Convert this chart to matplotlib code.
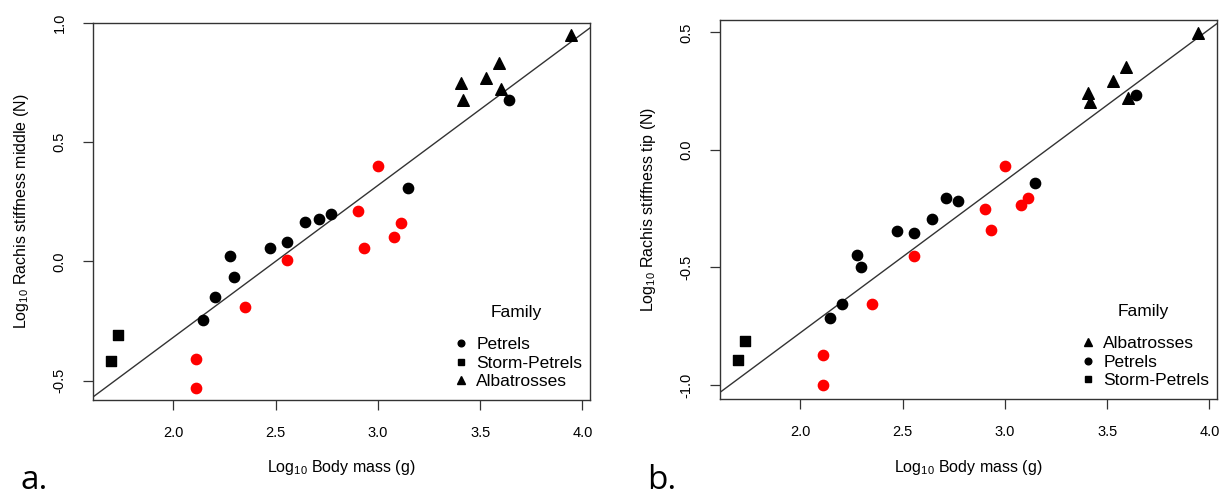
import numpy as np
import matplotlib.pyplot as plt
from matplotlib.lines import Line2D

plt.rcParams['font.family'] = ['Liberation Sans', 'DejaVu Sans']
plt.rcParams['mathtext.fontset'] = 'custom'
plt.rcParams['mathtext.rm'] = 'Liberation Sans'
plt.rcParams['mathtext.it'] = 'Liberation Sans:italic'

# log10 body mass (g)
storm_mass = [1.730, 1.695]
petrel_mass = [2.145, 2.204, 2.277, 2.298, 2.474, 2.554, 2.644, 2.714, 2.771, 3.147, 3.640]
albatross_mass = [3.407, 3.414, 3.527, 3.593, 3.602, 3.942]
red_mass = [2.111, 2.111, 2.350, 2.554, 2.904, 3.001, 2.931, 3.079, 3.113]

# log10 rachis stiffness, middle
storm_mid = [-0.308, -0.417]
petrel_mid = [-0.245, -0.147, 0.021, -0.066, 0.055, 0.081, 0.164, 0.178, 0.200, 0.310, 0.677]
albatross_mid = [0.747, 0.677, 0.771, 0.834, 0.724, 0.948]
red_mid = [-0.409, -0.532, -0.189, 0.007, 0.210, 0.402, 0.055, 0.104, 0.160]

# log10 rachis stiffness, tip
storm_tip = [-0.815, -0.896]
petrel_tip = [-0.716, -0.656, -0.447, -0.500, -0.347, -0.352, -0.293, -0.204, -0.218, -0.139, 0.233]
albatross_tip = [0.241, 0.206, 0.292, 0.354, 0.220, 0.499]
red_tip = [-0.872, -1.002, -0.655, -0.451, -0.251, -0.069, -0.340, -0.233, -0.205]

# regression lines (slope, intercept)
fit_mid = (0.637, -1.592)
fit_tip = (0.646, -2.070)

x_ticks = [2.0, 2.5, 3.0, 3.5, 4.0]
mid_ticks = [-0.5, 0.0, 0.5, 1.0]
tip_ticks = [-1.0, -0.5, 0.0, 0.5]

fig = plt.figure(figsize=(12.28, 4.96), dpi=100)
ax1 = fig.add_axes([0.0757, 0.1935, 0.4047, 0.760])
ax2 = fig.add_axes([0.5863, 0.1956, 0.4047, 0.764])

handles = {
    'Petrels': Line2D([], [], ls='none', marker='o', color='black', markersize=4.8),
    'Storm-Petrels': Line2D([], [], ls='none', marker='s', color='black', markersize=4.8),
    'Albatrosses': Line2D([], [], ls='none', marker='^', color='black', markersize=5.5),
}


def draw_panel(ax, ys, fit, yticks, ylim, ylabel, order, letter, letter_x):
    storm, petrel, albatross, red = ys
    ax.scatter(petrel_mass, petrel, marker='o', s=55, color='black', zorder=3)
    ax.scatter(storm_mass, storm, marker='s', s=55, color='black', zorder=3)
    ax.scatter(albatross_mass, albatross, marker='^', s=70, color='black', zorder=3)
    ax.scatter(red_mass, red, marker='o', s=55, color='red', zorder=3)
    ax.axline((0, fit[1]), slope=fit[0], color='#333333', lw=1.0, zorder=2)

    ax.set_xlim(1.607, 4.037)
    ax.set_ylim(*ylim)
    ax.set_xticks(x_ticks)
    ax.set_xticklabels([f'{v:.1f}' for v in x_ticks])
    ax.set_yticks(yticks)
    ax.set_yticklabels([f'{v:.1f}' for v in yticks], rotation=90, va='center')
    ax.tick_params(direction='out', length=7, width=0.9, color='#333333',
                   labelsize=10.5, pad=12)
    for sp in ax.spines.values():
        sp.set_color('#333333')
        sp.set_linewidth(1.0)

    ax.set_xlabel('Log$_{10}$ Body mass (g)', fontsize=11.5)
    ax.xaxis.set_label_coords(0.5, -0.18)
    ax.xaxis.label.set_va('center')
    ax.set_ylabel(ylabel, fontsize=11.5)
    ax.yaxis.set_label_coords(-0.143, 0.5)
    ax.yaxis.label.set_va('center')

    # legend entries, with the title placed on its own above them
    ax.legend([handles[k] for k in order], order,
              loc='lower left', bbox_to_anchor=(0.703, -0.004), frameon=False,
              fontsize=12.5, handlelength=0.7,
              handletextpad=0.55, labelspacing=0.2, borderpad=0.2)
    ax.text(0.8525, 0.231, 'Family', transform=ax.transAxes, fontsize=12.5,
            ha='center', va='center')

    fig.text(letter_x, 0.014, letter, fontsize=24, family='Open Sans',
             ha='center', va='baseline')


draw_panel(ax1, (storm_mid, petrel_mid, albatross_mid, red_mid), fit_mid,
           mid_ticks, (-0.581, 1.0), 'Log$_{10}$ Rachis stiffness middle (N)',
           ['Petrels', 'Storm-Petrels', 'Albatrosses'], 'a.', 0.0277)
draw_panel(ax2, (storm_tip, petrel_tip, albatross_tip, red_tip), fit_tip,
           tip_ticks, (-1.060, 0.553), 'Log$_{10}$ Rachis stiffness tip (N)',
           ['Albatrosses', 'Petrels', 'Storm-Petrels'], 'b.', 0.539)

plt.savefig('out.png', dpi=100)
